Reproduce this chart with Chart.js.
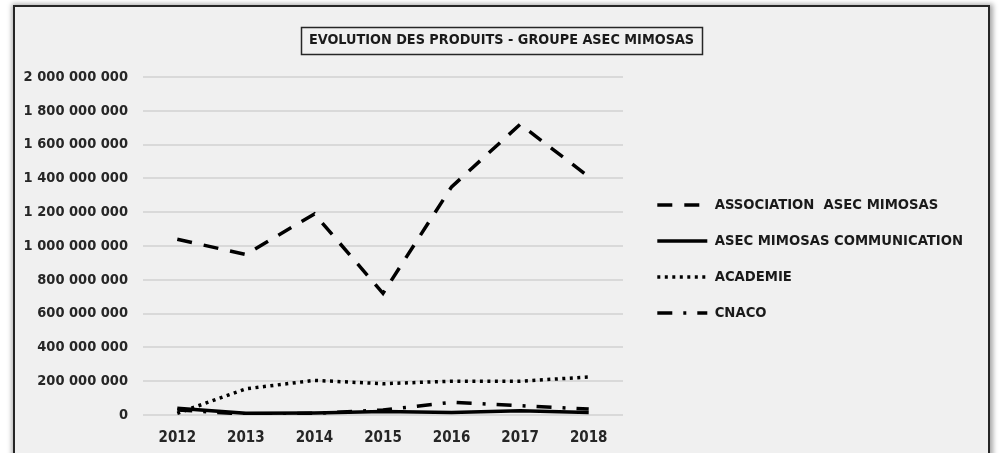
<!DOCTYPE html>
<html>
<head>
<meta charset="utf-8">
<script src="https://cdn.jsdelivr.net/npm/chart.js@4"></script>
<style>
  html, body { margin: 0; padding: 0; background: #ffffff; overflow: hidden; }
  #frame {
    position: absolute; left: 13px; top: 5px; width: 973px; height: 470px;
    border: 2px solid #262626; background: #f0f0f0;
    box-shadow: 1px 1px 5px 2px rgba(0,0,0,0.35);
  }
  canvas { display: block; }
</style>
</head>
<body>
<div id="frame"><canvas id="c" width="973" height="454"></canvas></div>
<script>
const years = ['2012', '2013', '2014', '2015', '2016', '2017', '2018'];
const association = [1040000000, 950000000, 1190000000, 720000000, 1350000000, 1720000000, 1410000000];
const communication = [40000000, 10000000, 12000000, 20000000, 15000000, 25000000, 15000000];
const academie = [10000000, 155000000, 205000000, 185000000, 200000000, 200000000, 225000000];
const cnaco = [30000000, 5000000, 10000000, 30000000, 75000000, 55000000, 35000000];
const seriesNames = ['ASSOCIATION  ASEC MIMOSAS', 'ASEC MIMOSAS COMMUNICATION', 'ACADEMIE', 'CNACO'];
const titleText = 'EVOLUTION DES PRODUITS - GROUPE ASEC MIMOSAS';
const yMax = 2000000000;
const yStep = 200000000;

const FONT = "'DejaVu Sans Condensed', 'DejaVu Sans', sans-serif";
const TITLE_SIZE = 14.3, TITLE_LH = 18, TITLE_PAD_TOP = 24, TITLE_PAD_BOTTOM = 28;
const LEGEND_W = 352;

function fmt(v) {
  return String(Math.round(v)).replace(/\B(?=(\d{3})+(?!\d))/g, ' ');
}

const titleBox = {
  id: 'titleBox',
  beforeLayout(chart) {
    const lg = chart.legend;
    if (lg && !lg._fixedW) {
      const origFit = lg.fit;
      lg.fit = function () { origFit.call(this); this.width = LEGEND_W; };
      lg._fixedW = true;
    }
  },
  afterDraw(chart) {
    const tb = chart.titleBlock;
    if (!tb) return;
    const ctx = chart.ctx;
    ctx.save();
    ctx.font = 'bold ' + TITLE_SIZE + 'px ' + FONT;
    const w = ctx.measureText(titleText).width;
    const cx = (tb.left + tb.right) / 2;
    const cy = tb.top + TITLE_PAD_TOP + TITLE_LH / 2;
    ctx.strokeStyle = '#262626';
    ctx.lineWidth = 1.5;
    ctx.strokeRect(Math.round(cx - w / 2 - 8) + 0.5, Math.round(cy - 13.5) + 0.5, Math.round(w + 16), 27);
    ctx.restore();
  }
};

const ds = (label, data, dash, width) => ({
  label, data,
  borderColor: '#000000', backgroundColor: '#000000',
  borderWidth: width, borderDash: dash, borderCapStyle: 'butt',
  pointRadius: 0, pointHoverRadius: 0, tension: 0, fill: false
});

new Chart(document.getElementById('c'), {
  type: 'line',
  data: {
    labels: years,
    datasets: [
      ds(seriesNames[0], association, [15, 12], 3.5),
      ds(seriesNames[1], communication, [], 3.5),
      ds(seriesNames[2], academie, [3, 4.5], 3.5),
      ds(seriesNames[3], cnaco, [15, 11, 3, 11], 3.5)
    ]
  },
  plugins: [titleBox],
  options: {
    responsive: false,
    animation: false,
    devicePixelRatio: 1,
    layout: { padding: 0 },
    plugins: {
      title: {
        display: true, text: titleText, color: '#1a1a1a',
        font: { family: FONT, size: TITLE_SIZE, weight: 'bold', lineHeight: TITLE_LH + 'px' },
        padding: { top: TITLE_PAD_TOP, bottom: TITLE_PAD_BOTTOM }
      },
      legend: {
        position: 'right', align: 'center', fullSize: false, maxWidth: 420,
        title: { display: true, text: ' ', font: { size: 12, lineHeight: '26px' }, padding: 0 },
        labels: {
          usePointStyle: true, pointStyle: 'line', pointStyleWidth: 50,
          padding: 21.3, color: '#1a1a1a',
          font: { family: FONT, size: 14.7, weight: 'bold' },
          generateLabels: (chart) => {
            const items = Chart.defaults.plugins.legend.labels.generateLabels(chart);
            items.forEach((it) => {
              const d = chart.data.datasets[it.datasetIndex];
              it.lineDash = d.borderDash;
              it.lineWidth = d.borderWidth;
              it.strokeStyle = d.borderColor;
              it.lineCap = 'butt';
              it.pointStyle = 'line';
            });
            return items;
          }
        }
      },
      tooltip: { enabled: false }
    },
    scales: {
      x: {
        offset: true,
        grid: { display: false, drawTicks: false },
        border: { display: false },
        ticks: { color: '#262626', padding: 14, font: { family: FONT, size: 15, weight: 'bold', lineHeight: '18px' } }
      },
      y: {
        min: 0, max: yMax,
        afterFit: (s) => { s.width = 128; },
        grid: { color: '#d9d9d9', lineWidth: 2, drawTicks: false },
        border: { display: false },
        ticks: { stepSize: yStep, color: '#262626', padding: 15, callback: (v) => fmt(v),
                 font: { family: FONT, size: 14.5, weight: 'bold' } }
      },
      y2: {
        position: 'right', display: true,
        afterFit: (s) => { s.width = 13; },
        grid: { display: false, drawTicks: false },
        border: { display: false },
        ticks: { display: false }
      }
    }
  }
});
</script>
</body>
</html>
